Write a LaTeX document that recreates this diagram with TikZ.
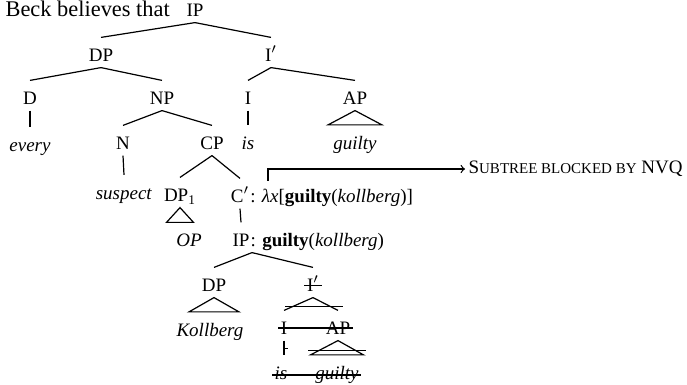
\documentclass[tikz,border=0pt]{standalone}
\usepackage{fontspec}
\setmainfont{Liberation Serif}
\usetikzlibrary{calc}
\tikzset{
  lab/.style={inner sep=1pt, text height=10.8pt, text depth=1.7pt, yshift=1.25pt},
  rest/.style={anchor=base west, inner sep=0pt, xshift=-1pt},
}

\begin{document}
\begin{tikzpicture}[x=0.5pt, y=-0.5pt, line width=.6pt, font=\fontsize{9.5}{11}\selectfont]
\useasboundingbox (0,0) rectangle (687,385);
\node[anchor=base west, inner sep=0pt, font=\fontsize{11.2}{13}\selectfont] (beck) at (5,16.6) {Beck believes that};
\node[lab] (ip) at (195,10) {IP};
\node[lab] (dp) at (101,55) {DP};
\node[lab] (ibar) at (271,55) {I$'$};
\node[lab] (d) at (30,98) {D};
\node[lab] (np) at (162,98) {NP};
\node[lab] (i) at (248,98) {I};
\node[lab] (ap) at (355,98) {AP};
\node[lab] (every) at (30,144.5) {\textit{every}};
\node[lab] (n) at (123,143) {N};
\node[lab] (cp) at (212,143) {CP};
\node[lab] (is) at (248,142.5) {\textit{is}};
\node[lab] (guilty) at (355,142.5) {\textit{guilty}};
\node[lab] (suspect) at (124,192.5) {\textit{suspect}};
\node[lab] (dpone) at (180,195) {DP\textsubscript{1}};
\node[lab] (cbar) at (240,196) {C$'$};
\node[rest] (cval) at (cbar.base east) {: \textit{λx}[\textbf{guilty}(\textit{kollberg})]};
\node[lab] (op) at (189,240) {\textit{OP}};
\node[lab] (ipl) at (241,240) {IP};
\node[rest] (ipval) at (ipl.base east) {: \textbf{guilty}(\textit{kollberg})};
\node[lab] (dptwo) at (214,285) {DP};
\node[lab] (ibartwo) at (313,285) {I$'$};
\node[lab] (kollberg) at (210,329.5) {\textit{Kollberg}};
\node[lab] (itwo) at (284,328) {I};
\node[lab] (aptwo) at (338,328) {AP};
\node[lab] (istwo) at (281,372.5) {\textit{is}};
\node[lab] (guiltytwo) at (337,372.5) {\textit{guilty}};
\node[anchor=west, inner sep=1.5pt] (sub) at (465,169) {S{\fontsize{7.5}{9}\selectfont UBTREE BLOCKED BY} NVQ};
\coordinate (blk) at (268,181);

\draw (ip.south) -- (dp.north);
\draw (ip.south) -- (ibar.north);
\draw (dp.south) -- (d.north);
\draw (dp.south) -- (np.north);
\draw (ibar.south) -- (i.north);
\draw (ibar.south) -- (ap.north);
\draw (d.south) -- (every.north);
\draw (np.south) -- (n.north);
\draw (np.south) -- (cp.north);
\draw (i.south) -- (is.north);
\draw (ap.south) -- ($(guilty.north)+(-27,0)$) -- ($(guilty.north)+(27,0)$) -- cycle;
\draw (n.south) -- (suspect.north);
\draw (cp.south) -- (dpone.north);
\draw (cp.south) -- (cbar.north);
\draw (dpone.south) -- ($(dpone.south |- op.north)+(-13.5,0)$) -- ($(dpone.south |- op.north)+(13.5,0)$) -- cycle;
\draw (cbar.south) -- (ipl.north);
\draw[->] (blk) |- (sub.west);
\draw (ipl.south east) -- (dptwo.north);
\draw (ipl.south east) -- (ibartwo.north);
\draw (dptwo.south) -- ($(dptwo.south |- kollberg.north)+(-25,0)$) -- ($(dptwo.south |- kollberg.north)+(25,0)$) -- cycle;
\draw (ibartwo.south) -- (itwo.north);
\draw (ibartwo.south) -- (aptwo.north);
\draw ($(ibartwo.south)+(-28,9)$) -- ++(58,0);
\draw ([yshift=3pt]ibartwo.base west) -- ([yshift=3pt]ibartwo.base east);
\draw ([yshift=3.3pt]itwo.base west) -- ([yshift=3.3pt]aptwo.base east);
\draw (itwo.south) -- coordinate[pos=.55] (tick) (itwo.south |- istwo.north);
\draw (tick) -- ++(4,0);
\draw (aptwo.south) -- ($(guiltytwo.north)+(-26.5,0)$) -- ($(guiltytwo.north)+(26.5,0)$) -- cycle;
\draw ($(aptwo.south)+(-30,10)$) -- ++(58,0);
\draw ([yshift=2pt]istwo.base west) -- ([yshift=2pt]guiltytwo.base east);
\end{tikzpicture}
\end{document}
